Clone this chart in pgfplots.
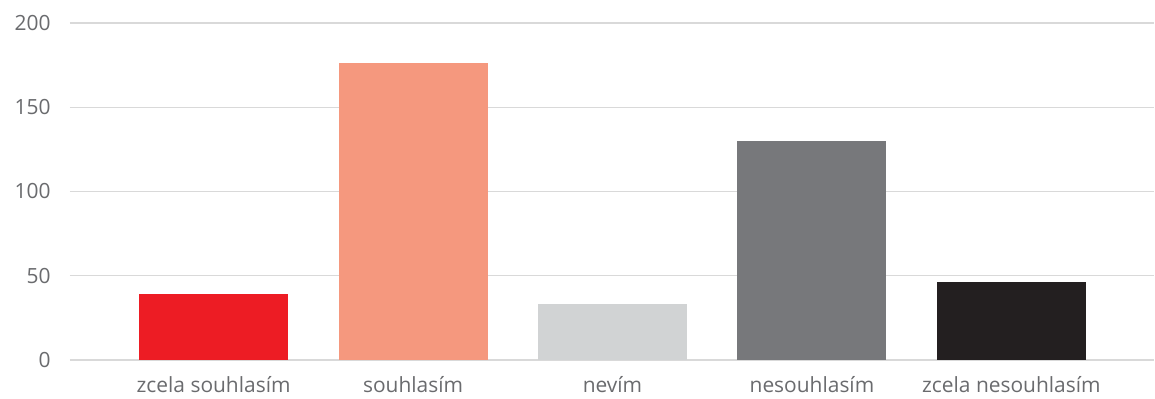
\documentclass[border=0pt]{standalone}
\usepackage{fontspec}
\setmainfont{Open Sans}
\usepackage{pgfplots}
\pgfplotsset{compat=1.18}

\definecolor{txtgray}{HTML}{6A6B6E}
\definecolor{gridgray}{HTML}{D9D9D9}
\definecolor{cA}{HTML}{ED1C24}
\definecolor{cB}{HTML}{F5987E}
\definecolor{cC}{HTML}{D1D3D4}
\definecolor{cD}{HTML}{77787B}
\definecolor{cE}{HTML}{231F20}

\begin{document}
\begin{tikzpicture}
\begin{axis}[
  name=ax,
  scale only axis,
  width=813pt, height=252.75pt,
  xmin=-0.72, xmax=4.715,
  ymin=0, ymax=200,
  ytick={0,50,100,150,200},
  xtick={0,1,2,3,4},
  xticklabels={zcela souhlasím, souhlasím, nevím, nesouhlasím, zcela nesouhlasím},
  axis line style={draw=none},
  major tick length=0pt,
  ymajorgrids,
  grid style={gridgray, line width=0.9pt},
  /pgf/number format/assume math mode=true,
  tick label style={font=\fontsize{15.7}{18}\selectfont, text=txtgray},
  yticklabel style={xshift=-11pt},
  xticklabel style={yshift=-9pt},
  ybar, bar width=111.75pt,
  bar shift=0pt,
  clip=false,
]
\addplot[fill=cA, draw=none] coordinates {(0,39)};
\addplot[fill=cB, draw=none] coordinates {(1,176)};
\addplot[fill=cC, draw=none] coordinates {(2,33)};
\addplot[fill=cD, draw=none] coordinates {(3,130)};
\addplot[fill=cE, draw=none] coordinates {(4,46)};
\end{axis}
\path ([xshift=-52.5pt,yshift=-29.25pt]ax.south west) rectangle ([xshift=0.75pt,yshift=17.25pt]ax.north east);
\end{tikzpicture}
\end{document}
